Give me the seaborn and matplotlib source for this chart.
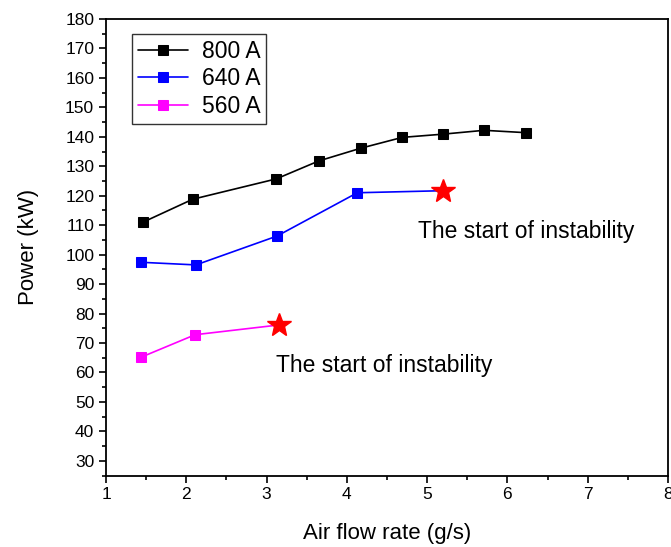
import matplotlib
matplotlib.use("Agg")
import matplotlib.pyplot as plt
import seaborn as sns
import pandas as pd
from matplotlib.ticker import MultipleLocator

# Data
x800 = [1.46, 2.08, 3.12, 3.65, 4.17, 4.69, 5.20, 5.71, 6.23]
p800 = [111.0, 118.8, 125.7, 131.8, 136.1, 139.8, 140.9, 142.2, 141.4]
x640 = [1.43, 2.12, 3.13, 4.13, 5.20]
p640 = [97.4, 96.5, 106.3, 121.0, 121.7]
x560 = [1.44, 2.11, 3.15]
p560 = [65.2, 72.8, 76.1]
labels = ["800 A", "640 A", "560 A"]
colors = ["black", "blue", "magenta"]
note = "The start of instability"

sns.set_style("ticks")
plt.rcParams['font.family'] = ['Liberation Sans', 'DejaVu Sans']
plt.rcParams.update({"text.color": "black", "axes.labelcolor": "black",
                     "xtick.color": "black", "ytick.color": "black"})

fig = plt.figure(figsize=(6.71, 5.47), dpi=100)
ax = fig.add_axes([0.158, 0.1307, 0.8375, 0.8346])

series = [(x800, p800, False), (x640, p640, True), (x560, p560, True)]
for (xs, ys, star), lab, col in zip(series, labels, colors):
    df = pd.DataFrame({"x": xs, "y": ys})
    n = len(xs)
    mev = list(range(n - 1)) if star else list(range(n))
    sns.lineplot(data=df, x="x", y="y", ax=ax, color=col, label=lab,
                 marker="s", markersize=7, markeredgecolor=col,
                 markevery=mev, sort=False, linewidth=1.2, estimator=None)
    if star:
        ax.plot(xs[-1], ys[-1], marker="*", color="red", markersize=18,
                linestyle="none", zorder=5)

ax.text(6.23, 107.7, note, ha="center", va="center", fontsize=16.5, color="black")
ax.text(4.47, 62.2, note, ha="center", va="center", fontsize=16.5, color="black")

ax.set_xlim(1, 8)
ax.set_ylim(25, 180)
ax.xaxis.set_major_locator(MultipleLocator(1))
ax.xaxis.set_minor_locator(MultipleLocator(0.5))
ax.set_yticks(list(range(30, 181, 10)))
ax.yaxis.set_minor_locator(MultipleLocator(5))
ax.tick_params(which="major", direction="out", length=5, width=1.2,
               labelsize=12.5, colors="black", top=False, right=False)
ax.tick_params(which="minor", direction="out", length=3, width=1.2,
               colors="black", top=False, right=False)
for s in ax.spines.values():
    s.set_visible(True)
    s.set_linewidth(1.3)
    s.set_color("black")

ax.set_xlabel("Air flow rate (g/s)", fontsize=16, labelpad=15, color="black")
ax.set_ylabel("Power (kW)", fontsize=16, labelpad=19, color="black")

leg = ax.legend(loc="upper left", bbox_to_anchor=(0.046, 0.967), fontsize=16.5,
                frameon=True, fancybox=False, edgecolor="black",
                handlelength=2.2, borderpad=0.25, labelspacing=0.2,
                handletextpad=0.6, borderaxespad=0)
leg.get_frame().set_linewidth(1.0)
for t in leg.get_texts():
    t.set_color("black")

fig.savefig("out.png", dpi=100)
